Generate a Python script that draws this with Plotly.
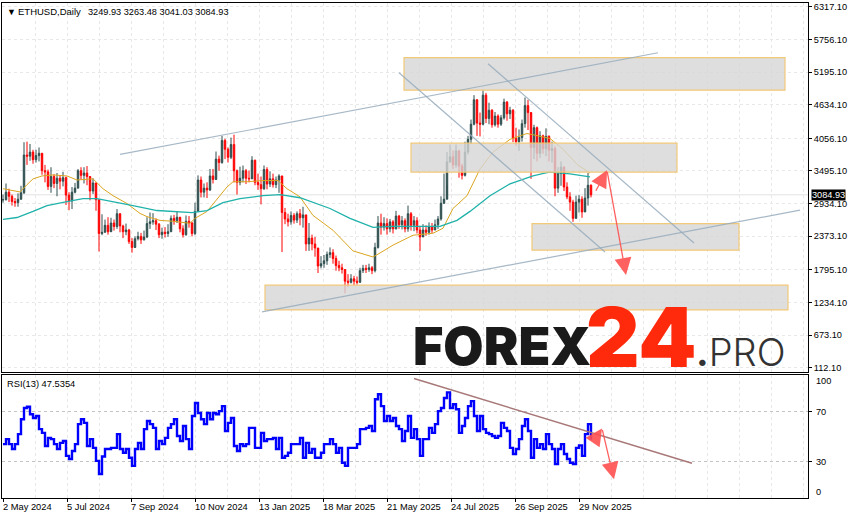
import plotly.graph_objects as go
from plotly.subplots import make_subplots

# x axis = days since 2 May 2024, one bar every 3 days
closes = [3000,3130,3060,2970,2950,3010,3120,3770,3750,3820,
          3690,3760,3800,3500,3480,3230,3400,3280,3370,3320,
          3380,3080,2980,3130,3200,3500,3420,3460,3400,3150,
          3290,3000,2420,2440,2560,2450,2600,2540,2760,2550,
          2450,2480,2280,2180,2330,2370,2310,2360,2590,2620,
          2640,2580,2400,2440,2420,2450,2680,2640,2700,2500,
          2400,2630,2600,2420,2800,3340,3130,3200,3170,3410,
          3350,3700,3640,4020,3870,3730,3950,3500,3300,3370,
          3500,3370,3360,3680,3300,3260,3190,3520,3270,3360,
          3260,3340,3410,2780,2670,2620,2730,2650,2760,2690,
          2740,2240,2340,2240,2170,1860,1900,1950,2060,2090,
          1990,1870,1830,1800,1600,1580,1640,1600,1580,1780,
          1820,1800,1830,1780,2180,2600,2530,2590,2500,2620,
          2500,2720,2570,2640,2500,2760,2560,2640,2480,2360,
          2480,2440,2540,2480,2570,2670,2940,3010,3650,3740,
          3600,3840,3580,3420,3820,4040,4300,4720,4320,4300,
          4800,4400,4540,4290,4440,4300,4410,4680,4480,4540,
          4060,4000,4070,4310,4620,4500,3900,4240,3800,4100,
          3880,4090,3850,3880,3200,3450,3560,3220,3050,2960,
          2680,2960,3010,2790,3030,3250,3084.93]
highs = [3090,3280,3190,3090,3030,3110,3240,3990,4000,3960,
         3860,3860,3900,3720,3600,3520,3560,3440,3460,3420,
         3480,3400,3130,3220,3290,3530,3560,3560,3580,3300,
         3370,3220,2950,2750,2660,2700,2690,2660,2840,2700,
         2570,2590,2500,2340,2370,2450,2430,2470,2700,2780,
         2770,2680,2600,2520,2530,2580,2730,2740,2800,2660,
         2560,2730,2720,2620,2950,3420,3400,3280,3300,3530,
         3530,3830,3760,4100,4050,3900,4070,4120,3520,3570,
         3590,3530,3500,3750,3690,3450,3400,3590,3560,3490,
         3450,3400,3440,3250,2860,2760,2800,2770,2800,2840,
         2880,2610,2600,2400,2360,2090,2030,2050,2110,2180,
         2150,2040,1950,1900,1800,1720,1720,1690,1680,1830,
         1880,1880,1900,1860,2260,2720,2760,2700,2680,2670,
         2650,2810,2740,2720,2680,2900,2790,2720,2700,2540,
         2580,2560,2610,2600,2660,2720,3060,3450,3820,3950,
         3850,3950,3860,3620,4000,4100,4380,4800,4730,4500,
         4890,4840,4670,4560,4510,4470,4460,4740,4700,4600,
         4560,4240,4210,4380,4760,4720,4450,4290,4260,4180,
         4120,4230,4110,4000,3920,3560,3660,3580,3300,3130,
         3000,3070,3080,3060,3200,3460,3263.48]
lows = [2950,2990,2960,2900,2880,2880,3000,3100,3600,3670,
        3620,3640,3660,3430,3300,3170,3120,3200,3060,3180,
        3230,2910,2820,2840,3110,3200,3350,3280,3250,2990,
        3100,2810,2110,2390,2470,2400,2500,2470,2500,2440,
        2340,2390,2240,2090,2170,2300,2240,2300,2340,2500,
        2570,2480,2340,2330,2350,2360,2450,2570,2600,2440,
        2350,2380,2520,2370,2390,2850,3040,3040,3030,3150,
        3280,3340,3500,3620,3700,3640,3700,3300,3090,3250,
        3300,3270,3300,3400,3250,3170,2920,3170,3180,3220,
        3210,3200,3120,2100,2580,2540,2570,2590,2600,2560,
        2520,2120,2120,2130,2020,1740,1820,1830,1880,2000,
        1900,1780,1770,1730,1390,1500,1560,1530,1540,1570,
        1740,1740,1760,1720,1750,2160,2400,2470,2400,2440,
        2420,2490,2500,2490,2440,2450,2470,2460,2420,2120,
        2370,2380,2400,2430,2480,2500,2640,2930,3250,3640,
        3530,3550,3380,3350,3400,3780,3960,4280,4100,4090,
        4280,4320,4300,4240,4260,4240,4270,4380,4360,4390,
        3990,3930,3840,4000,4240,4200,3360,3700,3660,3720,
        3790,3750,3660,3640,3060,3120,3240,3150,3010,2810,
        2620,2800,2780,2690,2960,2900,3041.03]
rsi = [44,48,44,40,44,52,64,73,74,68,
       65,66.5,56,53,42.5,49,48,44,40,45,
       46.5,34.5,32,38.5,44,60,64,61,42.5,48,
       41,30.5,20,34,40,40,41,41,52,40,
       37,40,33,26.5,40,45,40,56,62.5,60,
       57,40,46.5,44,49,57,60,64,50.5,46.5,
       58.5,48,40,66.5,77,69,64,60,69,64,
       69,68,70.5,74.5,54.5,61,65,42.5,38.5,44,
       42.5,44,57,57,41,41,53,46.5,48,48,
       49,40,49,33,34.5,37,44,44,44,49,
       33,45,37,40,33,33,37,44,44,48,
       44,37,41,29,26.5,41,41,41,44,56,
       56,57,58.5,54.5,80,84,74.5,62.5,66.5,62.5,
       65,58.5,56,46.5,54.5,66.5,49,56,48,34.5,
       48,48,57,53,60,70.5,73,81,85.5,73,
       76,72,53,58.5,65,74.5,78.5,66.5,54.5,66.5,
       56,53,52,50.5,49,50.5,61,57,54.5,41,
       36,40,48,58.5,64,54.5,33,48,41,44,
       40,52,44,40,28,40,44,36,32,29,
       28,41,43,34.5,52,60,47.54]
bar_days = list(range(0, 3 * len(closes), 3))
opens = [closes[0]] + closes[:-1]
opens[-1] = 3249.93
assert len(closes) == len(highs) == len(lows) == len(rsi)

fast_days = [0,7,17,24,30,39,50,64,74,90,100,110,124,137,144,157,170,187,192,204,214,224,230,244,
             260,275,284,297,310,330,350,370,377,390,410,430,440,450,464,477,490,507,524,547,560,574,587]
fast_ma = [3190,3170,3135,3260,3359,3410,3427,3410,3340,3360,3190,3070,2935,2765,2710,2645,2630,2595,2680,2800,3020,3220,3310,3310,
           3330,3330,3190,3050,2730,2475,2120,2016,2084,2220,2390,2424,2510,2850,3070,3530,3820,4040,4140,4055,3870,3610,3460]
slow_days = [0,14,30,44,64,80,94,110,130,154,170,189,204,220,237,260,277,297,327,347,370,390,417,437,454,467,487,507,530,547,567,587]
slow_ma = [2662,2695,2800,2900,2970,3020,3020,2970,2900,2815,2800,2780,2815,2950,3020,3070,3087,3035,2850,2680,2526,2543,2543,2543,2645,2800,3070,3274,3410,3478,3444,3393]

price_ticks = [6317.10,5756.10,5195.10,4634.10,4056.10,3495.10,2934.10,2373.10,1795.10,1234.10,673.10,112.10]
date_labels = ["2 May 2024","5 Jul 2024","7 Sep 2024","10 Nov 2024","13 Jan 2025","18 Mar 2025","21 May 2025","24 Jul 2025","26 Sep 2025","29 Nov 2025"]
label_days = [64 * i for i in range(len(date_labels))]
grid_days = [32 * i for i in range(26)]

# hand drawn zones and lines
box_left = [401, 408, 529, 262]
box_right = [782, 674, 736, 785]
box_top = [5445, 3974, 2590, 1530]
box_bottom = [4885, 3476, 2132, 1105]
line_x0 = [117, 259, 396, 485]
line_x1 = [655, 797, 602, 691]
line_y0 = [3780, 1072, 5186, 5340]
line_y1 = [5529, 2821, 2100, 2255]

TEXT_FONT = "Liberation Sans"
W, H = 854, 520

fig = make_subplots(rows=2, cols=1, shared_xaxes=True)

fig.add_trace(go.Candlestick(
    x=bar_days, open=opens, high=highs, low=lows, close=closes,
    increasing=dict(line=dict(color="#2F4F4F", width=1), fillcolor="#2F4F4F"),
    decreasing=dict(line=dict(color="#FF0000", width=1), fillcolor="#FF0000"),
    whiskerwidth=0, showlegend=False, hoverinfo="skip"), row=1, col=1)
fig.add_trace(go.Scatter(x=fast_days, y=fast_ma, mode="lines", line=dict(color="#DAA520", width=1), showlegend=False), row=1, col=1)
fig.add_trace(go.Scatter(x=slow_days, y=slow_ma, mode="lines", line=dict(color="#20B2AA", width=1.3), showlegend=False), row=1, col=1)
fig.add_trace(go.Scatter(x=bar_days, y=rsi, mode="lines", line=dict(color="#0000FF", width=2.4, shape="hv"), showlegend=False), row=2, col=1)

fig.add_shape(type="line", x0=-1, x1=805, y0=closes[-1], y1=closes[-1], line=dict(color="#e2e2e2", width=1), layer="below", xref="x", yref="y")

for i in range(len(box_left)):
    fig.add_shape(type="rect", xref="x", yref="y", x0=box_left[i], x1=box_right[i], y0=box_bottom[i], y1=box_top[i],
                  fillcolor="rgba(214,214,214,0.8)", line=dict(color="#F2C879", width=1.2), layer="above")
for i in range(len(line_x0)):
    fig.add_shape(type="line", xref="x", yref="y", x0=line_x0[i], x1=line_x1[i], y0=line_y0[i], y1=line_y1[i],
                  line=dict(color="rgba(150,172,188,0.85)", width=1.2), layer="above")
fig.add_shape(type="line", xref="x2", yref="y2", x0=411, x1=689, y0=96.6, y1=28.6,
              line=dict(color="#A87878", width=1.5), layer="above")

ann = []
def add_text(text, x, y, size=9.2, color="#000000", **kw):
    ann.append(dict(text=text, x=x, y=y, xref=kw.pop("xref", "paper"), yref=kw.pop("yref", "paper"), showarrow=False,
                    xanchor=kw.pop("xanchor", "left"), yanchor=kw.pop("yanchor", "middle"),
                    font=dict(family=kw.pop("family", TEXT_FONT), size=size, color=color, weight=kw.pop("weight", 400)), **kw))

add_text("▼", 4.5/W, 1-11/H, size=9)
add_text("ETHUSD,Daily", 15.5/W, 1-11/H, size=9.5)
add_text("3249.93 3263.48 3041.03 3084.93", 86/W, 1-11/H, size=9.2)
add_text("RSI(13) 47.5354", 4.5/W, 1-384/H, size=9.3)
add_text("100", 814/W, 1-381/H)
add_text("70", 814/W, 1-412.5/H)
add_text("30", 814/W, 1-462.5/H)
add_text("0", 814/W, 1-493/H)
for d, lab in zip(label_days, date_labels):
    add_text(lab, d, 1-508/H, xref="x2", xshift=-2, size=9.3)
add_text("3084.93", 811/W, closes[-1], yref="y", color="#ffffff", bgcolor="#000000", borderpad=0, size=9.2)

# logo
add_text("FOREX", 411/W, 1-347/H, size=52, color="#1a1a1a", family="Inter", weight=900)
add_text("24", 584/W, 1-337/H, size=83, color="#FF2A0B", family="Inter", weight=900)
add_text("<b>.</b>PRO", 694/W, 1-352/H, size=38, color="#333333", family="Inter", weight=300)

# red arrows
for x0, y0, x1, y1, xr, yr in [(592, 3129, 604, 3506, "x", "y"), (604, 3506, 623, 1706, "x", "y"),
                               (591, 47, 599, 56.6, "x2", "y2"), (599, 56.6, 611, 15.8, "x2", "y2")]:
    ann.append(dict(x=x1, y=y1, ax=x0, ay=y0, xref=xr, yref=yr, axref=xr, ayref=yr, text="", showarrow=True,
                    arrowhead=2, arrowsize=2.6, arrowwidth=1.3, arrowcolor="rgba(255,80,80,0.9)"))

fig.update_layout(width=W, height=H, margin=dict(l=0, r=0, t=0, b=0), paper_bgcolor="white", plot_bgcolor="white",
                  showlegend=False, annotations=ann)

fig.update_xaxes(range=[-1, 805], rangeslider_visible=False, domain=[2/W, 808/W], showline=True, mirror=True,
                 linecolor="black", linewidth=1, zeroline=False, tickvals=grid_days, ticktext=[""]*len(grid_days),
                 showgrid=True, gridcolor="#e8e8e8", griddash="3px,3px", gridwidth=1, ticks="")
fig.update_xaxes(row=2, col=1, tickvals=label_days, ticktext=[""]*len(label_days), ticks="outside", ticklen=3, tickcolor="black",
                 minor=dict(tickvals=grid_days, showgrid=True, gridcolor="#e8e8e8", griddash="3px,3px", ticks=""))
fig.update_yaxes(row=1, col=1, domain=[1-372/H, 1-2/H], range=[44, 6385.7], side="right", tickvals=price_ticks,
                 ticktext=["%.2f" % p for p in price_ticks], ticks="outside", ticklen=3, tickcolor="black",
                 tickfont=dict(family=TEXT_FONT, size=9.2, color="black"), showline=True, mirror=True, linecolor="black",
                 showgrid=True, gridcolor="#e8e8e8", griddash="3px,3px", zeroline=False)
fig.update_yaxes(row=2, col=1, domain=[1-499/H, 1-375/H], range=[0.64, 99.84], side="right", tickvals=[70, 30],
                 ticktext=["", ""], ticks="outside", ticklen=3, tickcolor="black", showline=True, mirror=True, linecolor="black",
                 showgrid=True, gridcolor="#c4c4c4", griddash="3px,3px", zeroline=False)

fig.write_html("out.html", config=dict(displayModeBar=False), post_script="document.body.style.margin='0';")
